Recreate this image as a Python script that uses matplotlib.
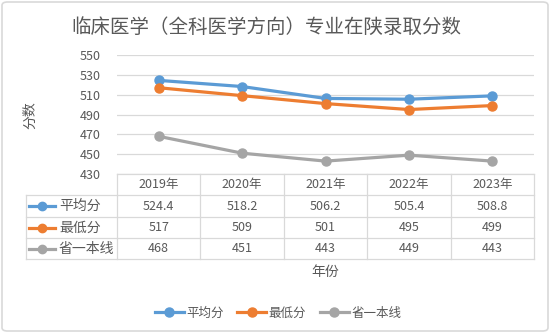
import matplotlib
matplotlib.use("Agg")
import matplotlib.pyplot as plt
from matplotlib.patches import FancyBboxPatch
from matplotlib.lines import Line2D

plt.rcParams['font.family'] = ['Noto Sans CJK SC', 'DejaVu Sans']

years = ["2019年", "2020年", "2021年", "2022年", "2023年"]
avg_score = [524.4, 518.2, 506.2, 505.4, 508.8]
min_score = [517, 509, 501, 495, 499]
line_score = [468, 451, 443, 449, 443]
series_names = ["平均分", "最低分", "省一本线"]
colors = ["#5B9BD5", "#ED7D31", "#A5A5A5"]
yticks = [430, 450, 470, 490, 510, 530, 550]

W, H = 550, 333
fig = plt.figure(figsize=(W / 100, H / 100), dpi=100)

def fx(px):
    return px / W

def fy(py):
    return 1 - py / H

# outer border
fig.patches.append(FancyBboxPatch((fx(2), fy(331)), fx(546), 329 / H,
                                  boxstyle="round,pad=0,rounding_size=0.01",
                                  transform=fig.transFigure, fill=False,
                                  ec="#D9D9D9", lw=1.2))

L, R, T, B = 117, 534, 55, 174
ax = fig.add_axes([fx(L), fy(B), fx(R - L), (B - T) / H])
x = list(range(len(years)))
for vals, c, n in zip([avg_score, min_score, line_score], colors, series_names):
    ax.plot(x, vals, color=c, lw=2.3, marker="o", ms=6.5, label=n, zorder=3)
ax.set_xlim(-0.5, len(years) - 0.5)
ax.set_ylim(430, 550)
ax.set_yticks(yticks)
ax.set_xticks([])
ax.grid(axis="y", color="#D9D9D9", lw=0.9)
for s in ax.spines.values():
    s.set_visible(False)
ax.tick_params(axis="y", length=0, labelsize=9, labelcolor="#595959", pad=12)

fig.text(fx(30), fy(115), "分数", rotation=90, ha="center", va="center",
         fontsize=10, color="#595959")
fig.text(fx(266), fy(27), "临床医学（全科医学方向）专业在陕录取分数", ha="center",
         va="center", fontsize=14, color="#595959")

# data table
TL = 26
rows_y = [174, 195, 217, 238, 259]
colw = (R - L) / len(years)
gc = "#D9D9D9"
def hline(y, x0, x1):
    fig.add_artist(Line2D([fx(x0), fx(x1)], [fy(y), fy(y)], color=gc, lw=0.9,
                          transform=fig.transFigure))
def vline(xp, y0, y1):
    fig.add_artist(Line2D([fx(xp), fx(xp)], [fy(y0), fy(y1)], color=gc, lw=0.9,
                          transform=fig.transFigure))
hline(rows_y[0], L, R)
for y in rows_y[1:]:
    hline(y, TL, R)
vline(TL, rows_y[1], rows_y[-1])
for i in range(len(years) + 1):
    vline(L + i * colw, rows_y[0], rows_y[-1])

for i, yr in enumerate(years):
    cx = L + (i + 0.5) * colw
    fig.text(fx(cx), fy((rows_y[0] + rows_y[1]) / 2), yr, ha="center",
             va="center", fontsize=9, color="#595959")
for r, (vals, c, n) in enumerate(zip([avg_score, min_score, line_score], colors, series_names)):
    cy = (rows_y[r + 1] + rows_y[r + 2]) / 2
    fig.add_artist(Line2D([fx(29), fx(55)], [fy(cy), fy(cy)], color=c, lw=2.3,
                          transform=fig.transFigure))
    fig.add_artist(Line2D([fx(42)], [fy(cy)], color=c, marker="o", ms=6,
                          transform=fig.transFigure))
    fig.text(fx(59), fy(cy), n, ha="left", va="center", fontsize=10, color="#595959")
    for i, v in enumerate(vals):
        cx = L + (i + 0.5) * colw
        fig.text(fx(cx), fy(cy), f"{v:g}", ha="center", va="center",
                 fontsize=9, color="#595959")

fig.text(fx((L + R) / 2), fy(272), "年份", ha="center", va="center",
         fontsize=10, color="#595959")

handles, labels = ax.get_legend_handles_labels()
fig.legend(handles, labels, loc="center", bbox_to_anchor=(fx(278), fy(313)),
           ncol=3, frameon=False, fontsize=9, labelcolor="#595959",
           handlelength=2.3, columnspacing=1.1, handletextpad=0.2)

fig.savefig("out.png", dpi=100)
